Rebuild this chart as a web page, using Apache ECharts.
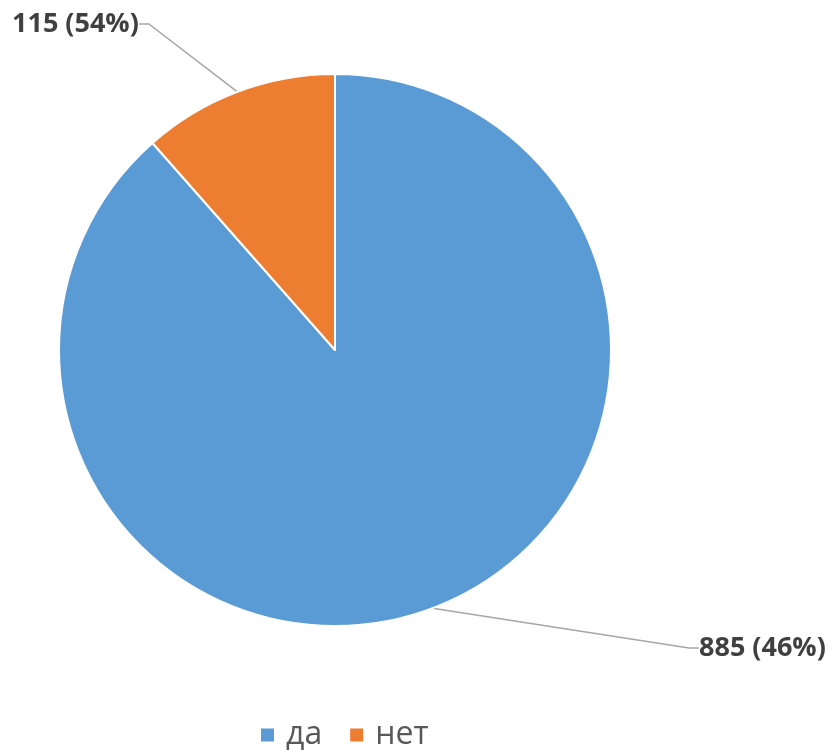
<!DOCTYPE html>
<html><head><meta charset="utf-8">
<script src="https://cdn.jsdelivr.net/npm/echarts@6/dist/echarts.min.js"></script>
<style>html,body{margin:0;padding:0;background:#fff}#c{width:836px;height:750px}</style>
</head><body><div id="c"></div>
<script>
const categories = ['да', 'нет'];
const values = [885, 115];
const labelTexts = ['885 (46%)', '115 (54%)'];
const colors = ['#5B9BD5', '#ED7D31'];

const chart = echarts.init(document.getElementById('c'));
chart.setOption({
  animation: false,
  color: colors,
  legend: {
    top: 714,
    left: 254,
    icon: 'rect',
    itemWidth: 15,
    itemHeight: 15,
    itemGap: 26,
    textStyle: { fontSize: 32, color: '#595959', fontFamily: 'Open Sans', padding: [0, 0, 0, 6] },
    data: categories
  },
  series: [{
    type: 'pie',
    center: [335, 350],
    radius: 276,
    startAngle: 90,
    clockwise: true,
    itemStyle: { borderColor: '#fff', borderWidth: 2 },
    label: {
      show: true,
      formatter: p => labelTexts[p.dataIndex],
      fontSize: 27,
      fontWeight: 'bold',
      color: '#404040',
      fontFamily: 'Open Sans'
    },
    labelLine: { show: true, lineStyle: { color: '#A6A6A6', width: 1.5 }, length: 20, length2: 10 },
    labelLayout: function (p) {
      if (p.dataIndex === 0) {
        return { x: 699, y: 648, align: 'left', verticalAlign: 'middle' };
      }
      return { x: 12, y: 24, align: 'left', verticalAlign: 'middle' };
    },
    data: categories.map((c, i) => ({ name: c, value: values[i] }))
  }]
});
</script>
</body></html>
